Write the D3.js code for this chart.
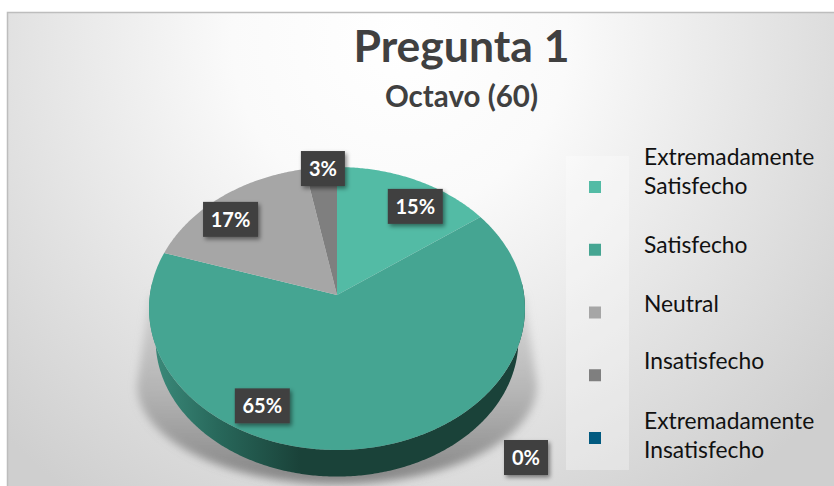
<!DOCTYPE html>
<html><head><meta charset="utf-8">
<script src="https://cdnjs.cloudflare.com/ajax/libs/d3/7.8.5/d3.min.js"></script>
<style>html,body{margin:0;padding:0;background:#fff}svg{display:block}</style>
</head><body><svg id="c" width="834" height="486"></svg>
<script>
const categories = ["Extremadamente Satisfecho","Satisfecho","Neutral","Insatisfecho","Extremadamente Insatisfecho"];
const legendLines = [["Extremadamente","Satisfecho"],["Satisfecho"],["Neutral"],["Insatisfecho"],["Extremadamente","Insatisfecho"]];
const values = [15,65,17,3,0];
const colors = ["#53BBA5","#45A592","#A6A6A6","#7F7F7F","#015A80"];
const labelShift = [[0,26.5],[-107,-42],[9,22.5],[2,1],[189,290.5]];
const legendTextShift = [-22,3,-1,-6,-9];
const titleText = "Pregunta 1";
const subtitleText = "Octavo (60)";

const W=834,H=486;
const svg=d3.select("#c");
const defs=svg.append("defs");
const FONT="Lato, 'Open Sans', sans-serif";

// perspective projection of the pie disc
const cx=337, cy=295, RX=187.1, RY=140.2, K=0.0954;
function rim(a){const x=Math.sin(a),y=Math.cos(a),w=1+K*y;return [cx+RX*x/w,cy-RY*y/w];}
const lowerScale=0.965, lowerDrop=32;
function lowRim(a){const p=rim(a);return [cx+(p[0]-cx)*lowerScale,cy+(p[1]-cy)*lowerScale+lowerDrop];}
const line=d3.line();
const arcPts=(a0,a1,fn)=>{const n=Math.max(2,Math.ceil(Math.abs(a1-a0)/0.01));return d3.range(n+1).map(i=>fn(a0+(a1-a0)*i/n));};

// background
const bg=defs.append("radialGradient").attr("id","bg").attr("gradientUnits","userSpaceOnUse")
 .attr("cx",400).attr("cy",40).attr("r",560);
bg.append("stop").attr("offset",0).attr("stop-color","#ffffff");
bg.append("stop").attr("offset",0.3).attr("stop-color","#fafafa");
bg.append("stop").attr("offset",1).attr("stop-color","#cfcfcf");
svg.append("rect").attr("width",W).attr("height",H).attr("fill","#fff");
svg.append("rect").attr("x",7.5).attr("y",12.5).attr("width",W).attr("height",H).attr("fill","url(#bg)")
 .attr("stroke","#bdbdbd").attr("stroke-width",1.5);

// title
svg.append("text").attr("x",461.5).attr("y",62).attr("text-anchor","middle").attr("font-family",FONT)
 .attr("font-weight",700).attr("font-size",44.5).attr("fill","#404040").text(titleText);
svg.append("text").attr("x",461.5).attr("y",107).attr("text-anchor","middle").attr("font-family",FONT)
 .attr("font-weight",700).attr("font-size",29.5).attr("fill","#404040").text(subtitleText);

// shadow: flares from the disc's widest points down to a soft half-ellipse
defs.append("filter").attr("id","blur").attr("x","-20%").attr("y","-20%").attr("width","140%").attr("height","140%")
 .append("feGaussianBlur").attr("stdDeviation",4);
const sg=defs.append("linearGradient").attr("id","sh").attr("x1",0).attr("x2",0).attr("y1",0).attr("y2",1);
sg.append("stop").attr("offset",0.05).attr("stop-color","#aaa").attr("stop-opacity",0.35);
sg.append("stop").attr("offset",0.5).attr("stop-color","#999").attr("stop-opacity",0.6);
sg.append("stop").attr("offset",1).attr("stop-color","#666").attr("stop-opacity",0.75);
const shadowTop=[rim(-Math.PI/2),rim(Math.PI/2)];
const shadowFoot=a=>[cx+200*Math.sin(a),385-99*Math.cos(a)];
const shadowPts=[shadowTop[0],...arcPts(-Math.PI/2,-Math.PI*1.5,shadowFoot),shadowTop[1]];
svg.append("path").attr("d",line(shadowPts)+"Z").attr("fill","url(#sh)").attr("filter","url(#blur)");

// wall
const wg=defs.append("linearGradient").attr("id","wall").attr("gradientUnits","userSpaceOnUse")
 .attr("x1",150).attr("x2",300).attr("y1",0).attr("y2",0);
[[0,"#3C8C7C"],[0.45,"#28685B"],[1,"#1A4239"]].forEach(s=>wg.append("stop").attr("offset",s[0]).attr("stop-color",s[1]));
const wallPts=[...arcPts(Math.PI*0.47,Math.PI*1.53,rim),...arcPts(Math.PI*1.53,Math.PI*0.47,lowRim)];
svg.append("path").attr("d",line(wallPts)+"Z").attr("fill","url(#wall)");

// slices
const pie=d3.pie().sort(null).value(d=>d);
const arcs=pie(values);
svg.append("g").selectAll("path").data(arcs).join("path")
 .attr("d",d=>line([[cx,cy],...arcPts(d.startAngle,d.endAngle,rim)])+"Z")
 .attr("fill",(d,i)=>colors[i]);

// labels
defs.append("filter").attr("id","ls").attr("x","-30%").attr("y","-30%").attr("width","170%").attr("height","170%")
 .append("feDropShadow").attr("dx",2).attr("dy",2.5).attr("stdDeviation",2).attr("flood-color","#000").attr("flood-opacity",0.45);
const fmt=d3.format(".0%");
const total=d3.sum(values);
const lab=svg.append("g").selectAll("g").data(arcs).join("g").attr("transform",(d,i)=>{
  const p=rim((d.startAngle+d.endAngle)/2);return `translate(${p[0]+labelShift[i][0]},${p[1]+labelShift[i][1]})`;});
lab.append("rect").attr("x",d=>d.value>=10?-27.5:-22).attr("y",-17.5)
 .attr("width",d=>d.value>=10?55:44).attr("height",35).attr("fill","#404040").attr("filter","url(#ls)");
lab.append("text").attr("text-anchor","middle").attr("y",7.5).attr("font-family",FONT).attr("font-weight",700)
 .attr("font-size",20).attr("fill","#fff").text(d=>fmt(d.value/total));

// legend
const rowY=d3.scalePoint().domain(d3.range(categories.length)).range([187,438]);
svg.append("rect").attr("x",566).attr("y",156).attr("width",63).attr("height",314).attr("fill","#fff").attr("fill-opacity",0.3);
const lg=svg.append("g").selectAll("g").data(categories).join("g");
lg.append("rect").attr("x",589).attr("width",12).attr("height",12).attr("y",(d,i)=>rowY(i)-6).attr("fill",(d,i)=>colors[i]);
lg.each(function(d,i){
  const L=legendLines[i];
  const base=rowY(i)+legendTextShift[i];
  d3.select(this).selectAll("text").data(L).join("text").attr("x",644).attr("y",(t,j)=>base+j*28.5)
    .attr("font-family",FONT).attr("font-size",22.8).attr("fill","#111").text(t=>t);
});
</script></body></html>
